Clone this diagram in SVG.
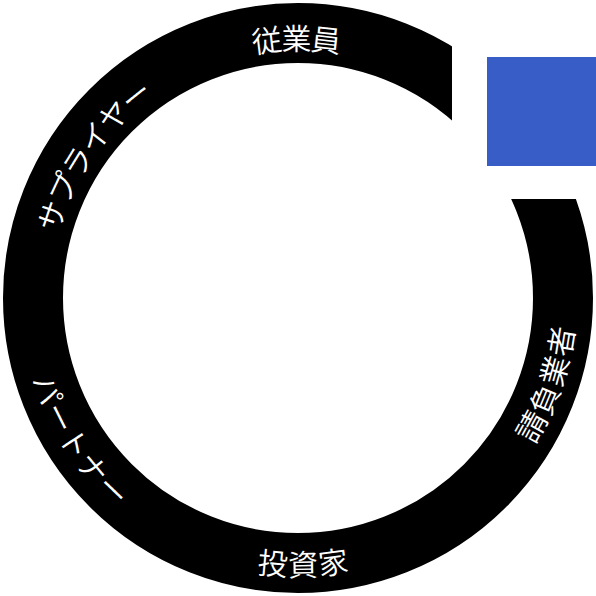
<svg xmlns="http://www.w3.org/2000/svg" xmlns:xlink="http://www.w3.org/1999/xlink" width="596" height="596" viewBox="0 0 596 596">
  <style>
    .lbl { fill: #ffffff; font-family: "Noto Sans CJK JP", "Noto Sans", sans-serif; font-size: 30px; font-weight: 350; dominant-baseline: central; text-anchor: middle; }
  </style>
  <defs>
    <clipPath id="ringClip">
      <path d="M0,0 H452 V199 H596 V596 H0 Z"/>
    </clipPath>
    <path id="cw" d="M298,559 A261,261 0 1 1 298,37 A261,261 0 1 1 298,559"/>
    <path id="ccw" d="M298,33 A265,265 0 1 0 298,563 A265,265 0 1 0 298,33"/>
  </defs>
  <rect width="596" height="596" fill="#ffffff"/>
  <g id="ring">
    <circle cx="298" cy="298" r="265" fill="none" stroke="#000000" stroke-width="60" clip-path="url(#ringClip)"/>
  </g>
  <g id="square">
    <rect x="487" y="57" width="109" height="109" fill="#385dc6"/>
  </g>
  <g id="label-employees">
    <text class="lbl"><textPath xlink:href="#cw" href="#cw" startOffset="49.9%">従業員</textPath></text>
  </g>
  <g id="label-suppliers">
    <text class="lbl"><textPath xlink:href="#cw" href="#cw" startOffset="34.7%">サプライヤー</textPath></text>
  </g>
  <g id="label-partners">
    <text class="lbl"><textPath xlink:href="#ccw" href="#ccw" startOffset="34.2%">パートナー</textPath></text>
  </g>
  <g id="label-investors">
    <text class="lbl"><textPath xlink:href="#ccw" href="#ccw" startOffset="50.3%">投資家</textPath></text>
  </g>
  <g id="label-contractors">
    <text class="lbl"><textPath xlink:href="#ccw" href="#ccw" startOffset="69.7%">請負業者</textPath></text>
  </g>
  <g id="connectors"/>
</svg>
